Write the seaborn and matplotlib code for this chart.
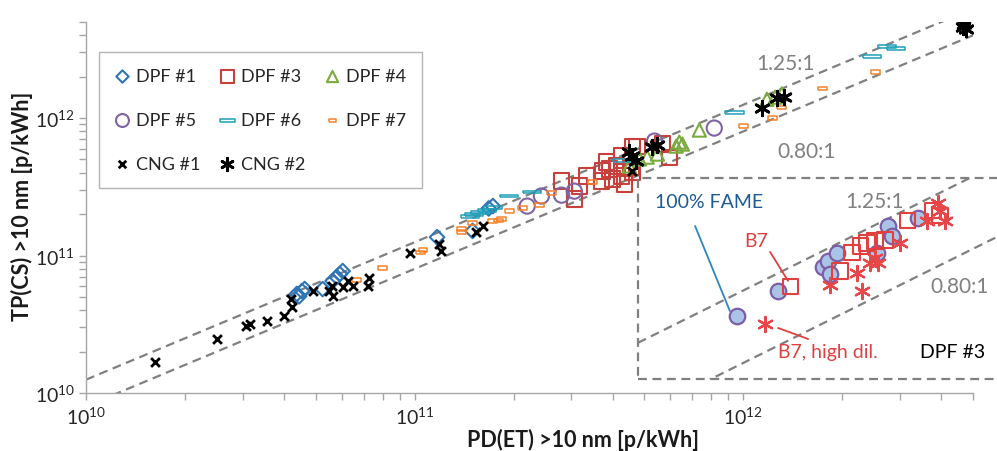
import numpy as np
import matplotlib
matplotlib.use("Agg")
import matplotlib.pyplot as plt
from matplotlib.patches import Rectangle
from matplotlib.ticker import FixedLocator, FuncFormatter, LogLocator, NullFormatter
import seaborn as sns

# values (particles per kWh)
dpf1_x = [4.38e10, 4.54e10, 4.63e10, 4.45e10, 5.25e10, 5.63e10, 5.79e10, 5.92e10, 6.04e10, 1.17e11, 1.50e11, 1.68e11, 1.73e11]
dpf1_y = [5.25e10, 5.52e10, 5.71e10, 5.05e10, 5.70e10, 6.53e10, 6.98e10, 7.33e10, 7.71e10, 1.36e11, 1.51e11, 2.20e11, 2.29e11]

dpf3_x = [2.80e11, 3.06e11, 3.17e11, 3.33e11, 3.73e11, 3.83e11, 3.91e11, 4.11e11, 4.26e11, 4.26e11, 4.35e11,
          4.60e11, 4.60e11, 4.55e11, 4.75e11, 5.67e11, 5.96e11, 3.70e11, 4.00e11]
dpf3_y = [3.48e11, 2.58e11, 3.20e11, 3.79e11, 4.12e11, 4.79e11, 4.26e11, 4.48e11, 5.29e11, 3.79e11, 3.31e11,
          6.15e11, 4.05e11, 4.40e11, 6.20e11, 6.47e11, 5.20e11, 3.48e11, 3.60e11]

dpf4_x = [4.50e11, 4.83e11, 5.10e11, 5.48e11, 6.25e11, 6.39e11, 6.53e11, 7.35e11, 1.18e12, 1.31e12, 1.25e12]
dpf4_y = [4.48e11, 5.04e11, 5.20e11, 5.47e11, 6.25e11, 6.69e11, 6.47e11, 8.18e11, 1.37e12, 1.50e12, 1.42e12]

dpf5_x = [2.20e11, 2.43e11, 2.80e11, 3.06e11, 5.37e11, 8.16e11]
dpf5_y = [2.29e11, 2.71e11, 2.75e11, 2.94e11, 6.80e11, 8.46e11]

dpf6_x = [1.47e11, 1.52e11, 1.58e11, 1.66e11, 1.73e11, 1.94e11, 2.27e11, 4.29e11, 9.40e11, 2.47e12, 2.74e12, 2.92e12]
dpf6_y = [1.91e11, 1.98e11, 2.07e11, 2.14e11, 2.22e11, 2.71e11, 2.90e11, 4.95e11, 1.09e12, 2.82e12, 3.34e12, 3.23e12]

dpf7_x = [6.66e10, 8.00e10, 1.04e11, 1.06e11, 1.39e11, 1.39e11, 1.50e11, 1.73e11, 1.80e11, 1.84e11, 1.94e11,
          2.13e11, 2.40e11, 2.61e11, 3.48e11, 1.00e12, 1.23e12, 1.31e12, 1.74e12, 2.52e12]
dpf7_y = [6.63e10, 8.11e10, 1.05e11, 1.10e11, 1.56e11, 1.48e11, 1.72e11, 1.78e11, 1.80e11, 1.84e11, 2.11e11,
          2.22e11, 2.33e11, 2.85e11, 3.42e11, 8.75e11, 1.00e12, 1.20e12, 1.65e12, 2.16e12]

cng1_x = [1.62e10, 2.50e10, 3.06e10, 3.15e10, 3.55e10, 4.00e10, 4.23e10, 4.20e10, 4.90e10, 5.60e10, 5.63e10, 5.50e10,
          6.04e10, 6.26e10, 6.48e10, 7.25e10, 7.20e10, 9.66e10, 1.19e11, 1.20e11, 1.54e11, 1.61e11, 4.57e11]
cng1_y = [1.68e10, 2.47e10, 3.07e10, 3.18e10, 3.34e10, 3.63e10, 4.22e10, 4.83e10, 5.52e10, 6.00e10, 5.07e10, 5.50e10,
          5.90e10, 6.53e10, 6.00e10, 6.86e10, 6.00e10, 1.04e11, 1.21e11, 1.08e11, 1.48e11, 1.64e11, 4.12e11]

cng2_x = [4.50e11, 4.60e11, 4.73e11, 5.29e11, 5.45e11, 1.14e12, 1.27e12, 1.33e12, 4.70e12, 4.76e12, 4.65e12]
cng2_y = [5.66e11, 5.29e11, 4.87e11, 6.15e11, 6.40e11, 1.18e12, 1.40e12, 1.42e12, 4.83e12, 4.44e12, 4.60e12]

# inset: DPF #3 fuel comparison
fame_x = [2.71e11, 3.07e11, 3.52e11, 3.58e11, 3.68e11, 3.60e11, 4.16e11, 4.30e11, 4.35e11, 4.71e11]
fame_y = [2.94e11, 3.43e11, 3.98e11, 4.13e11, 4.35e11, 3.81e11, 4.35e11, 5.14e11, 4.83e11, 5.40e11]
b7_x = [3.19e11, 3.71e11, 3.85e11, 3.95e11, 4.03e11, 4.13e11, 4.26e11, 4.56e11, 4.92e11, 5.04e11]
b7_y = [3.54e11, 3.89e11, 4.35e11, 4.54e11, 4.62e11, 4.68e11, 4.71e11, 5.30e11, 5.64e11, 5.47e11]
b7hd_x = [2.95e11, 3.60e11, 3.91e11, 3.97e11, 4.07e11, 4.13e11, 4.17e11, 4.46e11, 5.01e11, 4.85e11, 5.12e11, 5.04e11]
b7hd_y = [2.81e11, 3.56e11, 3.84e11, 3.45e11, 4.08e11, 4.21e11, 4.08e11, 4.62e11, 5.93e11, 5.30e11, 5.30e11, 5.64e11]

ratios = [1.25, 0.80]
ratio_labels = ["1.25:1", "0.80:1"]

sns.set_style("white")
plt.rcParams['font.family'] = ['Lato', 'DejaVu Sans']
plt.rcParams['mathtext.fontset'] = 'custom'
plt.rcParams['mathtext.rm'] = 'Lato'

GRAY = '#808080'
RED = '#e0413f'
wide_rect = [(-1, -0.16), (1, -0.16), (1, 0.16), (-1, 0.16), (-1, -0.16)]
small_rect = [(-1, -0.38), (1, -0.38), (1, 0.38), (-1, 0.38), (-1, -0.38)]
asterisk = (6, 2, 0)
dash = (0, (4, 2.5))

fig = plt.figure(figsize=(9.97, 4.52), dpi=100)
ax = fig.add_axes([86 / 997, 58 / 452, 887 / 997, 371 / 452])
ax.set_xscale('log')
ax.set_yscale('log')
lo, hi = 1e10, 5e12
ax.set_xlim(lo, hi)
ax.set_ylim(lo, hi)

line_x = np.array([lo, hi])
for r in ratios:
    ax.plot(line_x, line_x * r, color=GRAY, lw=1.6, ls=dash, zorder=1)

# name, x, y, marker, size, colour, edge width, open?
groups = [
    ("DPF #1", dpf1_x, dpf1_y, "D", 55, '#2e75b6', 1.5, True),
    ("DPF #3", dpf3_x, dpf3_y, "s", 120, '#c8403c', 1.5, True),
    ("DPF #4", dpf4_x, dpf4_y, "^", 90, '#7aab3e', 1.5, True),
    ("DPF #5", dpf5_x, dpf5_y, "o", 120, '#8064a2', 1.5, True),
    ("DPF #6", dpf6_x, dpf6_y, wide_rect, 170, '#1f9fb8', 1.1, True),
    ("DPF #7", dpf7_x, dpf7_y, small_rect, 40, '#f7822a', 1.1, True),
    ("CNG #1", cng1_x, cng1_y, "x", 40, 'black', 2, False),
    ("CNG #2", cng2_x, cng2_y, asterisk, 110, 'black', 2, False),
]
for name, xs, ys, mk, size, col, lw, hollow in groups:
    if hollow:
        sns.scatterplot(x=np.array(xs), y=np.array(ys), marker=mk, s=size, color=col,
                        facecolor='none', edgecolor=col, linewidth=lw, label=name, ax=ax, zorder=3)
    else:
        sns.scatterplot(x=np.array(xs), y=np.array(ys), marker=mk, s=size, color=col,
                        linewidth=lw, label=name, ax=ax, zorder=4)

ax.text(0.789, 0.889, ratio_labels[0], transform=ax.transAxes, ha='center', va='center', fontsize=15, color=GRAY)
ax.text(0.812, 0.652, ratio_labels[1], transform=ax.transAxes, ha='center', va='center', fontsize=15, color=GRAY)

# axes styling
for side in ['top', 'right']:
    ax.spines[side].set_visible(False)
for side in ['left', 'bottom']:
    ax.spines[side].set_color('#a6a6a6')
    ax.spines[side].set_linewidth(1)
ax.xaxis.set_major_locator(FixedLocator([1e10, 1e11, 1e12]))
ax.yaxis.set_major_locator(FixedLocator([1e10, 1e11, 1e12]))
ax.xaxis.set_minor_locator(LogLocator(base=10, subs=np.arange(2, 10)))
ax.yaxis.set_minor_locator(LogLocator(base=10, subs=np.arange(2, 10)))
fmt = FuncFormatter(lambda v, p: r'$\mathregular{10^{%d}}$' % round(np.log10(v)))
ax.xaxis.set_major_formatter(fmt)
ax.yaxis.set_major_formatter(fmt)
ax.xaxis.set_minor_formatter(NullFormatter())
ax.yaxis.set_minor_formatter(NullFormatter())
ax.tick_params(which='both', bottom=True, left=True, direction='out', length=5, width=1,
               color='#a6a6a6', labelsize=14, labelcolor='#262626')
ax.tick_params(axis='x', pad=4)
ax.tick_params(axis='y', pad=3)
ax.set_xlabel('')
ax.set_ylabel('')

label_font = ['Liberation Sans Narrow', 'Lato', 'DejaVu Sans']
fig.text(583 / 997, 1 - 440 / 452, 'PD(ET) >10 nm [p/kWh]', ha='center', va='center', fontsize=15.5,
         fontweight='bold', color='#1a1a1a', family=label_font)
fig.text(22 / 997, 1 - 206 / 452, 'TP(CS) >10 nm [p/kWh]', ha='center', va='center', rotation=90,
         fontsize=15.5, fontweight='bold', color='#1a1a1a', family=label_font)

handles, labels = ax.get_legend_handles_labels()
order = ["DPF #1", "DPF #5", "CNG #1", "DPF #3", "DPF #6", "CNG #2", "DPF #4", "DPF #7"]
hmap = dict(zip(labels, handles))
leg = ax.legend([hmap[k] for k in order], order, ncol=3, loc='upper left',
                bbox_to_anchor=(99 / 997, 1 - 53 / 452), bbox_transform=fig.transFigure,
                borderaxespad=0, fontsize=13, frameon=True, fancybox=False, markerscale=0.85,
                handlelength=0.8, handletextpad=0.35, columnspacing=1.1, labelspacing=1.55,
                borderpad=0.9)
leg.get_frame().set_edgecolor('#a0a0a0')
leg.get_frame().set_linewidth(1)

# inset for DPF #3
ins = fig.add_axes([638 / 997, 72 / 452, 359 / 997, 201 / 452])
ins.set_xscale('log')
ins.set_yscale('log')
ilo_x, ihi_x = 2e11, 6e11
ilo_y, ihi_y = 2e11, 6.9e11
ins.set_xlim(ilo_x, ihi_x)
ins.set_ylim(ilo_y, ihi_y)
ins.axis('off')
ix = np.array([ilo_x, ihi_x])
for r in ratios:
    ins.plot(ix, ix * r, color=GRAY, lw=1.6, ls=dash, zorder=1)

fig.add_artist(Rectangle((638 / 997, 72 / 452), 0.5, 201 / 452, transform=fig.transFigure,
                         fill=False, ec=GRAY, lw=1.6, ls=dash))

sns.scatterplot(x=np.array(fame_x), y=np.array(fame_y), marker='o', s=125, color='#a9c4e6',
                edgecolor='#7b5ea7', linewidth=1.6, ax=ins, zorder=3, legend=False)
sns.scatterplot(x=np.array(b7_x), y=np.array(b7_y), marker='s', s=120, color=RED,
                facecolor='none', edgecolor=RED, linewidth=1.5, ax=ins, zorder=3, legend=False)
sns.scatterplot(x=np.array(b7hd_x), y=np.array(b7hd_y), marker=asterisk, s=120, color='#e8474a',
                linewidth=1.6, ax=ins, zorder=4, legend=False)

ins.plot([0.159, 0.256], [0.761, 0.338], transform=ins.transAxes, color='#2e86c1', lw=1.3, clip_on=False)
ins.plot([0.368, 0.418], [0.632, 0.488], transform=ins.transAxes, color=RED, lw=1.3, clip_on=False)
ins.plot([0.390, 0.474], [0.254, 0.199], transform=ins.transAxes, color=RED, lw=1.3, clip_on=False)
ins.text(0.047, 0.881, '100% FAME', transform=ins.transAxes, ha='left', va='center', fontsize=14, color='#1f5b94')
ins.text(0.329, 0.687, 'B7', transform=ins.transAxes, ha='center', va='center', fontsize=14, color=RED)
ins.text(0.390, 0.139, 'B7, high dil.', transform=ins.transAxes, ha='left', va='center', fontsize=14, color=RED)
ins.text(0.967, 0.139, 'DPF #3', transform=ins.transAxes, ha='right', va='center', fontsize=14, color='black')
ins.text(0.660, 0.886, ratio_labels[0], transform=ins.transAxes, ha='center', va='center', fontsize=15, color=GRAY)
ins.text(0.897, 0.463, ratio_labels[1], transform=ins.transAxes, ha='center', va='center', fontsize=15, color=GRAY)

fig.savefig('out.png', dpi=100)
